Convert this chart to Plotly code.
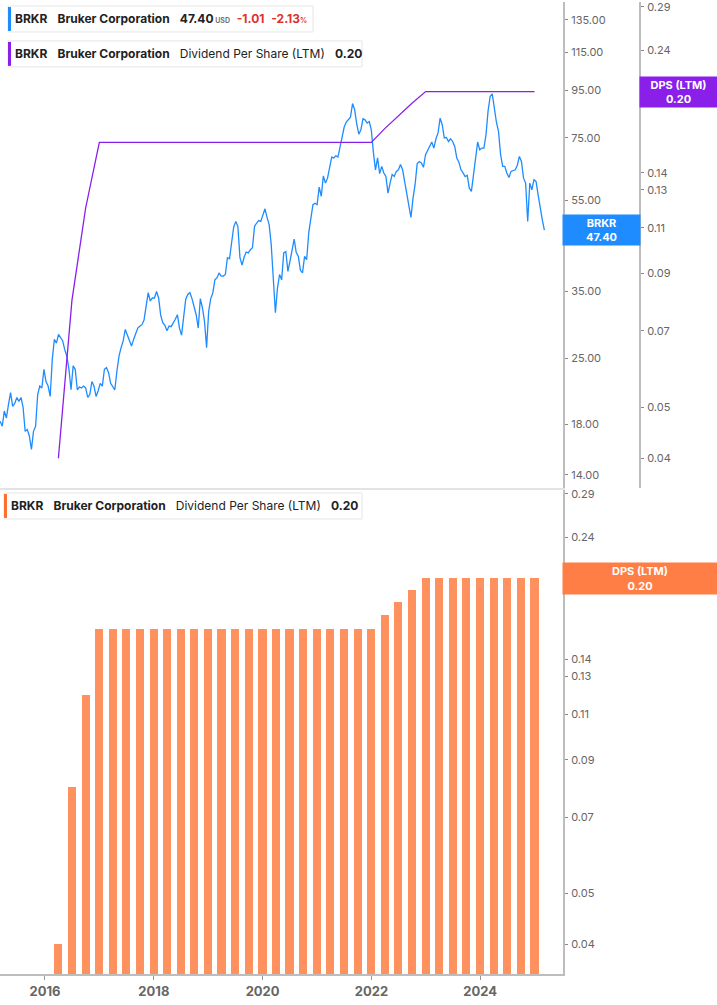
import numpy as np
import pandas as pd
import plotly.graph_objects as go

# ── data ─────────────────────────────────────────────────────────────
# BRKR close, one reading every two weeks starting 2015-03-06
price_start = "2015-03-06"
price = [
    18.3, 17.85, 19.25, 18.6, 19.9, 21.1, 19.7, 20.0, 20.6, 20.2,
    20.6, 19.6, 17.4, 17.55, 17.0, 15.9, 17.4, 17.85, 20.9, 21.8,
    21.6, 23.7, 22.3, 21.8, 20.7, 24.9, 27.5, 27.0, 28.2, 27.7,
    27.3, 26.1, 25.3, 23.7, 21.4, 24.1, 23.7, 21.4, 21.7, 21.6,
    21.8, 21.6, 20.6, 20.9, 22.3, 21.8, 20.7, 21.3, 22.1, 21.8,
    23.7, 23.9, 23.3, 22.1, 21.8, 21.4, 23.5, 25.3, 26.4, 27.3,
    28.9, 28.2, 27.5, 26.6, 27.5, 28.2, 29.1, 29.35, 29.6, 30.3,
    32.4, 34.7,
    33.3, 33.8, 33.8, 34.9, 33.8, 31.0, 29.9, 29.5, 28.7, 29.4,
    29.3, 29.8, 30.4, 31.1, 29.1, 28.1, 30.4, 33.6, 34.4, 34.7,
    33.7, 32.5, 31.1, 29.1, 33.7, 32.2, 30.1, 26.4, 31.6, 33.7,
    34.7, 37.0, 37.4, 38.3, 37.7, 37.7, 38.0, 41.3, 41.1, 44.5,
    48.1, 49.5, 48.3, 41.3, 39.8, 41.4, 42.5, 42.3, 43.0, 43.4,
    48.3, 49.1, 49.7, 49.5, 51.0, 52.7, 50.5, 48.7, 44.1, 37.4,
    31.4, 35.5, 38.0,
    37.0, 42.3, 42.6, 38.6, 40.6,
    42.6, 45.3, 42.4, 41.6, 38.8, 38.3, 41.6, 40.9, 46.8, 49.9,
    53.8, 54.2, 53.8, 58.7, 56.1, 62.1, 59.9, 61.4, 64.6, 68.2,
    67.9, 68.6, 68.2, 71.7, 74.5, 79.2, 81.2, 82.1, 83.2, 89.0,
    86.4, 80.4, 76.4, 78.1, 82.5, 82.1, 80.8, 81.4, 78.1, 69.8,
    64.0, 67.9, 62.8, 65.1, 63.0, 61.9, 57.0, 59.9, 62.5, 61.9,
    63.5, 64.0, 65.7, 64.0, 60.4, 57.5, 53.8,
    50.5, 55.5, 59.5,
    66.0, 66.7, 66.2, 64.8, 69.0, 70.4, 71.7, 73.5, 71.3, 74.7,
    76.9, 82.8, 80.1, 75.0, 75.2, 73.7, 74.7, 73.7, 71.9, 67.9,
    66.5, 64.0, 63.0, 61.9, 62.3, 58.4, 57.5, 63.0, 67.9, 73.5,
    70.7, 71.3, 71.3, 76.2, 85.8, 92.2, 93.4, 86.4, 81.1, 77.5,
    69.0, 65.1, 65.1, 63.0, 61.6, 63.5, 63.7, 64.0, 65.4, 68.4,
    66.7, 61.4, 59.9, 49.5, 59.9, 57.9, 60.9, 60.4, 56.5, 52.5,
    49.9, 47.4,
]
last_price, chg, chg_pct = 47.40, -1.01, -2.13

# dividend per share, last twelve months, quarterly
dps_dates = [f"{y}-{md}" for y in range(2016, 2025)
             for md in ("03-31", "06-30", "09-30", "12-31")]
dps = [
    0.04, 0.08, 0.12, 0.16,
    0.16, 0.16, 0.16, 0.16,
    0.16, 0.16, 0.16, 0.16,
    0.16, 0.16, 0.16, 0.16,
    0.16, 0.16, 0.16, 0.16,
    0.16, 0.16, 0.16, 0.16,
    0.17, 0.18, 0.19, 0.20,
    0.20, 0.20, 0.20, 0.20,
    0.20, 0.20, 0.20, 0.20,
]

year_ticks = ["2016-01-01", "2018-01-01", "2020-01-01", "2022-01-01", "2024-01-01"]
year_labels = ["2016", "2018", "2020", "2022", "2024"]
price_ticks = [14, 18, 25, 35, 45, 55, 75, 95, 115, 135]
dps_ticks = [0.04, 0.05, 0.07, 0.09, 0.11, 0.13, 0.14, 0.19, 0.24, 0.29]

price_dates = pd.date_range(price_start, periods=len(price), freq="14D")

# ── styling ──────────────────────────────────────────────────────────
W, H = 717, 1005
BLUE, PURPLE, ORANGE = "#1E8CFF", "#8A1FEA", "#FF915E"
AXIS_LINE = "#bdbdbd"
FONT = "Inter, Roboto, sans-serif"


def px(x):
    return x / W


def py(y):
    return 1 - y / H


xdom = [0, px(563)]
top_dom = [py(487), 1]
bot_dom = [py(974), py(488)]
tick_font = dict(family=FONT, size=11, color="#666")

fig = go.Figure()
fig.add_trace(go.Scatter(
    x=price_dates, y=price, mode="lines", line=dict(color=BLUE, width=1.3),
    xaxis="x2", yaxis="y", hoverinfo="skip",
))
fig.add_trace(go.Scatter(
    x=dps_dates, y=dps, mode="lines", line=dict(color=PURPLE, width=1.3),
    xaxis="x2", yaxis="y2", hoverinfo="skip",
))
fig.add_trace(go.Bar(
    x=dps_dates, y=dps, marker=dict(color=ORANGE, line=dict(width=0)),
    width=55 * 86400000, xaxis="x", yaxis="y3", hoverinfo="skip",
))

yaxis_common = dict(
    type="log", side="right", showgrid=False, zeroline=False,
    showline=True, linecolor=AXIS_LINE, linewidth=2,
    ticks="outside", ticklen=3, tickcolor="#888", tickfont=tick_font,
    ticklabelstandoff=1, ticklabeloverflow="allow",
)
fig.update_layout(
    width=W, height=H, showlegend=False,
    margin=dict(l=0, r=0, t=0, b=0),
    plot_bgcolor="white", paper_bgcolor="white",
    font=dict(family=FONT, size=12, color="#222"),
    bargap=0,
    xaxis=dict(
        domain=xdom, anchor="y3", type="date",
        range=["2015-03-05", "2025-07-10"],
        tickvals=year_ticks, ticktext=year_labels,
        tickfont=dict(family=FONT, size=13, color="#666", weight="bold"),
        ticks="outside", ticklen=4, tickcolor="#999",
        showline=True, linecolor=AXIS_LINE, linewidth=2, showgrid=False,
    ),
    xaxis2=dict(
        domain=xdom, anchor="y", matches="x", showticklabels=False,
        ticks="", showgrid=False, showline=True, linecolor="#e3e3e3", linewidth=2,
    ),
    yaxis=dict(
        domain=top_dom, anchor="x2",
        range=[np.log10(13.12), np.log10(147.6)],
        tickvals=price_ticks, ticktext=[f"{v:.2f}" for v in price_ticks],
        **yaxis_common,
    ),
    yaxis2=dict(
        overlaying="y", anchor="free", position=px(640),
        range=[np.log10(0.0351), np.log10(0.2964)],
        tickvals=dps_ticks, ticktext=[f"{v:.2f}" for v in dps_ticks],
        **yaxis_common,
    ),
    yaxis3=dict(
        domain=bot_dom, anchor="x",
        range=[np.log10(0.0351), np.log10(0.2964)],
        tickvals=dps_ticks, ticktext=[f"{v:.2f}" for v in dps_ticks],
        **yaxis_common,
    ),
)

# ── last-value labels on the axes ───────────────────────────────────
def value_tag(x_px, yref, value, text, color, width, height):
    fig.add_annotation(
        x=px(x_px), xref="paper", y=np.log10(value), yref=yref,
        text=text, showarrow=False, xanchor="center", yanchor="middle",
        bgcolor=color, width=width, height=height, borderpad=0,
        font=dict(family=FONT, size=11, color="white"),
    )


value_tag(601.5, "y", last_price, f"<b>BRKR<br>{last_price:.2f}</b>", BLUE, 77, 30)
value_tag(678.5, "y2", dps[-1], f"<b>DPS (LTM)<br>{dps[-1]:.2f}</b>", PURPLE, 77, 30)
value_tag(640, "y3", dps[-1], f"<b>DPS (LTM)<br>{dps[-1]:.2f}</b>", "#FF7E45", 154, 31)

# ── legend boxes ─────────────────────────────────────────────────────
SP = "\u00a0\u00a0\u00a0"
RED = "#E0312B"


def legend_box(x0, x1, y0, y1, color, text):
    fig.add_shape(type="rect", xref="paper", yref="paper",
                  x0=px(x0), x1=px(x1), y0=py(y1), y1=py(y0),
                  line=dict(color="#e6e6e6", width=1), fillcolor="white", layer="above")
    fig.add_shape(type="rect", xref="paper", yref="paper",
                  x0=px(x0), x1=px(x0 + 3), y0=py(y1 - 1), y1=py(y0 + 1),
                  line=dict(width=0), fillcolor=color, layer="above")
    fig.add_annotation(x=px(x0 + 5), y=py((y0 + y1) / 2), xref="paper", yref="paper",
                       xanchor="left", yanchor="middle", showarrow=False, text=text,
                       font=dict(family=FONT, size=12, color="#222"))


legend_box(8, 313, 4, 30, BLUE,
           f"<b>BRKR</b>{SP}<b>Bruker Corporation</b>{SP}<b>{last_price:.2f}</b>"
           f"<span style='font-size:7px;color:#777'><b> USD</b></span>\u00a0\u00a0"
           f"<span style='color:{RED}'><b>{chg:.2f}</b></span>\u00a0\u00a0"
           f"<span style='color:{RED}'><b>{chg_pct:.2f}</b></span>"
           f"<span style='font-size:7px;color:{RED}'><b>%</b></span>")
legend_box(8, 362, 39, 65, PURPLE,
           f"<b>BRKR</b>{SP}<b>Bruker Corporation</b>{SP}Dividend Per Share (LTM){SP}<b>{dps[-1]:.2f}</b>")
legend_box(4, 362, 492, 518, "#FF6F30",
           f"<b>BRKR</b>{SP}<b>Bruker Corporation</b>{SP}Dividend Per Share (LTM){SP}<b>{dps[-1]:.2f}</b>")

# page margin off so the 717x1005 figure fills the window exactly
fig.write_html("out.html", config={"displayModeBar": False},
               post_script="document.body.style.margin='0';")
